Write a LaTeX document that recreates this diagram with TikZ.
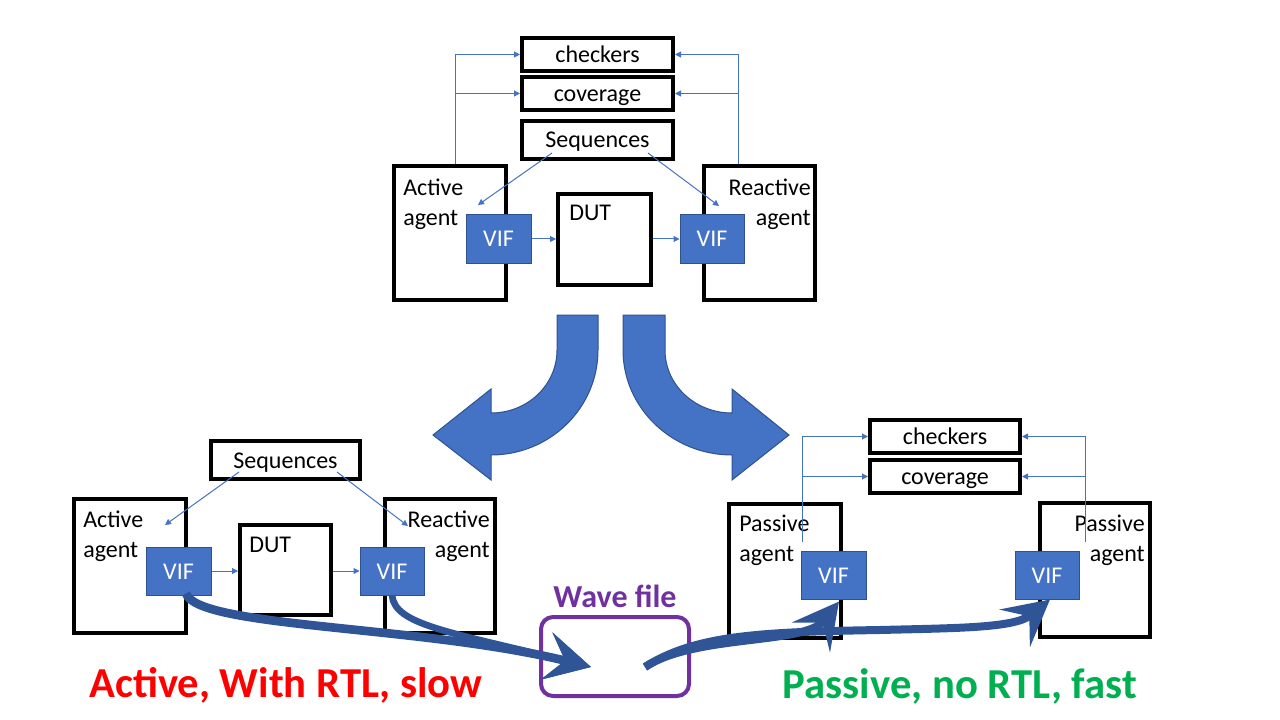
\documentclass[tikz,border=0pt]{standalone}
\usepackage{fontspec}
\setmainfont{Carlito}
\usetikzlibrary{arrows.meta,calc}
\definecolor{accblue}{HTML}{4472C4}
\definecolor{accdark}{HTML}{2F528F}
\definecolor{arrdark}{HTML}{2F5597}
\definecolor{wavepurple}{HTML}{7030A0}
\definecolor{slowred}{HTML}{FF0000}
\definecolor{fastgreen}{HTML}{00B050}
\begin{document}
\begin{tikzpicture}[x=0.75pt,y=-0.75pt,
  font=\fontsize{18}{22}\selectfont,
  blk/.style={draw=black,line width=3pt,inner sep=0pt,text height=12pt,text depth=0pt},
  agentbox/.style={draw=black,line width=3pt,inner sep=0pt,minimum width=84pt,minimum height=100.5pt},
  vifbox/.style={draw=accdark,line width=0.75pt,fill=accblue,text=white,inner sep=0pt,minimum width=48.75pt,minimum height=36pt,text height=12pt,text depth=0pt},
  lbl/.style={inner sep=0pt,anchor=north west,align=left},
  lblr/.style={inner sep=0pt,anchor=north east,align=right},
  thinarrow/.style={draw=accblue,line width=0.75pt,-{Triangle[length=4.5pt,width=4.5pt]}},
  bentarrow/.style={fill=accblue,draw=accdark,line width=0.75pt},
  flowarrow/.style={draw=arrdark,line width=6pt,-{Stealth[length=34pt,width=36pt,inset=14pt]}},
  caption/.style={font=\fontsize{32}{38}\selectfont\bfseries,anchor=base,inner sep=0pt},
]
\useasboundingbox (0,0) rectangle (1280,720);

% ---------- top ----------
\node[blk,minimum width=113.25pt,minimum height=24.75pt] (chk1) at (597.5,54.5) {checkers};
\node[blk,minimum width=113.25pt,minimum height=24.75pt] (cov1) at (597.5,93.5) {coverage};
\node[blk,minimum width=113.25pt,minimum height=28.5pt] (seq1) at (597.5,140) {Sequences};
\node[agentbox] (act1) at (450,233) {};
\node[blk,minimum width=69.75pt,minimum height=68.25pt] (dut1) at (604.5,239.5) {};
\node[agentbox,minimum width=83.25pt] (rea1) at (759.5,233) {};
\node[vifbox] (vif1a) at (498.5,239) {VIF};
\node[vifbox,minimum width=48pt] (vif1b) at (712,239) {VIF};
\node[lbl] (act1t) at (403,179) {Active\\agent};
\node[lblr] (rea1t) at (811,179) {Reactive\\agent};
\node[lbl] (dut1t) at (569,205) {DUT};

\coordinate (up1a) at (455,164);
\coordinate (up1b) at (738,164);
\draw[thinarrow] (up1a) |- (chk1.west);
\draw[thinarrow] (up1a) |- (cov1.west);
\draw[thinarrow] (up1b) |- (chk1.east);
\draw[thinarrow] (up1b) |- (cov1.east);
\coordinate (s1a) at (552,153);
\coordinate (e1a) at (478,205);
\coordinate (s1b) at (648,153);
\coordinate (e1b) at (719,206);
\draw[thinarrow] (s1a) -- (e1a);
\draw[thinarrow] (s1b) -- (e1b);
\draw[thinarrow] (vif1a.east) -- (vif1a.east -| dut1.west);
\draw[thinarrow] (dut1.east |- vif1b.west) -- (vif1b.west);

% ---------- bent arrows ----------
\path[bentarrow] (557,315) -- (598,315) -- (598,350)
  .. controls (598,408) and (550,455) .. (491,455)
  -- (491,480) -- (433,435) -- (491,389) -- (491,413)
  .. controls (527.5,413) and (557,385) .. (557,350) -- cycle;
\path[bentarrow] (623,315) -- (665,315) -- (665,350)
  .. controls (665,385) and (695,413) .. (732,413)
  -- (732,389) -- (789,435) -- (732,480) -- (732,455)
  .. controls (672,455) and (623,408) .. (623,350) -- cycle;

% ---------- bottom left ----------
\node[blk,minimum width=111.75pt,minimum height=28.5pt] (seq2) at (285.5,460) {Sequences};
\node[agentbox] (act2) at (130,566) {};
\node[blk,minimum width=68.25pt,minimum height=67.5pt] (dut2) at (285.5,570) {};
\node[agentbox,minimum width=82.5pt] (rea2) at (440,566) {};
\node[vifbox] (vif2a) at (178.5,571) {VIF};
\node[vifbox,minimum width=48pt] (vif2b) at (392,571) {VIF};
\node[lbl] (act2t) at (83,511) {Active\\agent};
\node[lblr] (rea2t) at (490,511) {Reactive\\agent};
\node[lbl] (dut2t) at (249,537) {DUT};
\coordinate (s2a) at (239,472);
\coordinate (e2a) at (165,525);
\coordinate (s2b) at (337,472);
\coordinate (e2b) at (408,526);
\draw[thinarrow] (s2a) -- (e2a);
\draw[thinarrow] (s2b) -- (e2b);
\draw[thinarrow] (vif2a.east) -- (vif2a.east -| dut2.west);
\draw[thinarrow] (dut2.east |- vif2b.west) -- (vif2b.west);

% ---------- bottom right ----------
\node[blk,minimum width=112.5pt,minimum height=24.75pt] (chk3) at (945,436.5) {checkers};
\node[blk,minimum width=112.5pt,minimum height=24.75pt] (cov3) at (945,476.5) {coverage};
\node[agentbox] (pas3a) at (785,571) {};
\node[agentbox,minimum width=82.5pt] (pas3b) at (1095,570) {};
\node[vifbox] (vif3a) at (833.5,575) {VIF};
\node[vifbox,minimum width=48pt] (vif3b) at (1047,575) {VIF};
\node[lbl] (pas3at) at (739,515) {Passive\\agent};
\node[lblr] (pas3bt) at (1145,515) {Passive\\agent};
\coordinate (up3a) at (802,542);
\coordinate (up3b) at (1085,542);
\draw[thinarrow] (up3a) |- (chk3.west);
\draw[thinarrow] (up3a) |- (cov3.west);
\draw[thinarrow] (up3b) |- (chk3.east);
\draw[thinarrow] (up3b) |- (cov3.east);

% ---------- wave file ----------
\node[draw=wavepurple,line width=3pt,rounded corners=9pt,minimum width=111pt,minimum height=59.25pt,inner sep=0pt] (wave) at (615,656.5) {};
\node[font=\fontsize{24}{28}\selectfont\bfseries,text=wavepurple,anchor=base,inner sep=0pt] (wavet) at (615,607) {Wave file};
\coordinate (win) at (591,667);
\coordinate (wout) at (645,667);

% ---------- flow arrows ----------
\draw[flowarrow,line width=6.5pt] ($(vif2a.south)+(7.5,-2)$) .. controls (198,628) and (420,625) .. (win);
\draw[flowarrow,line width=5pt] (vif2b.south) .. controls (395,625) and (450,632) .. (win);
\draw[flowarrow] (wout) .. controls (695,634) and (805,645) .. ($(vif3a.south)+(5.5,2)$);
\draw[flowarrow] (wout) .. controls (695,635) and (760,632) .. (880,630)
  .. controls (960,628) and (1015,628) .. ($(vif3b.south)+(3,0)$);

% ---------- captions ----------
\node[caption,text=slowred] (slow) at (286,697) {Active, With RTL, slow};
\node[caption,text=fastgreen] (fast) at (960,698) {Passive, no RTL, fast};
\end{tikzpicture}
\end{document}
